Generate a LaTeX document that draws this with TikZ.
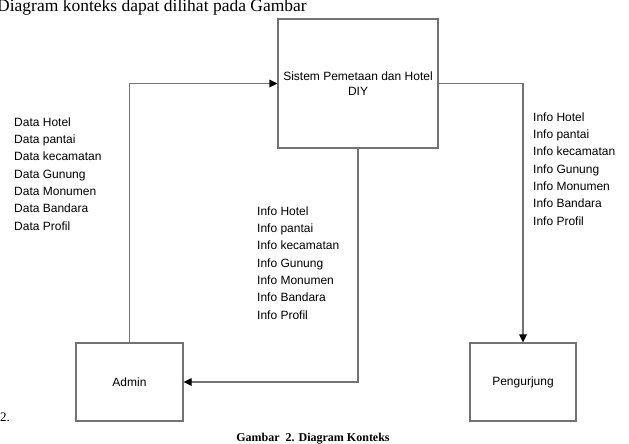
\documentclass[tikz,border=0pt]{standalone}
\usepackage{fontspec}
\setmainfont{Liberation Serif}
\setsansfont{Liberation Sans}
\usetikzlibrary{arrows.meta}

\begin{document}
\begin{tikzpicture}[x=1pt, y=-1pt,
		entity/.style = {rectangle, draw = black!55, line width = 1.1pt, inner sep = 0pt, font = \sffamily\fontsize{12}{15}\selectfont, align = center},
		datalist/.style = {anchor = north west, inner sep = 0pt, font = \sffamily\fontsize{12}{17.3}\selectfont, align = left},
		flow/.style = {draw = black!55, line width = 1.1pt, -{Triangle[length = 8pt, width = 7.5pt, color = black]}}]
				\useasboundingbox (0,0) rectangle (629,444);

				\node[anchor = base west, inner sep = 0pt, font = \fontsize{17.5}{20}\selectfont] at (-3,12) (intro) {Diagram konteks dapat dilihat pada Gambar};

				\node[entity, minimum width = 160pt, minimum height = 129pt] at (358,83.5) (sistem) {Sistem Pemetaan dan Hotel\\DIY};
				\node[entity, minimum width = 107pt, minimum height = 78pt] at (129.5,382) (admin) {Admin};
				\node[entity, minimum width = 106pt, minimum height = 78pt] at (523,382) (pengunjung) {Pengurjung};

				\node[datalist] at (14,117.5) (data_admin) {Data Hotel\\Data pantai\\Data kecamatan\\Data Gunung\\Data Monumen\\Data Bandara\\Data Profil};
				\node[datalist] at (257,206.5) (info_admin) {Info Hotel\\Info pantai\\Info kecamatan\\Info Gunung\\Info Monumen\\Info Bandara\\Info Profil};
				\node[datalist] at (533,112.5) (info_pengunjung) {Info Hotel\\Info pantai\\Info kecamatan\\Info Gunung\\Info Monumen\\Info Bandara\\Info Profil};

				\draw[flow] (admin.north) |- (sistem.west);
				\draw[flow] (sistem.east) -| (pengunjung.north);
				\draw[flow] (sistem.south) |- (admin.east);

				\node[anchor = base west, inner sep = 0pt, font = \fontsize{13}{15}\selectfont] at (0,421) (nomor) {2.};
				\node[anchor = base, inner sep = 0pt, font = \bfseries\fontsize{12}{15}\selectfont] at (313,441) (caption) {Gambar\ \ 2. Diagram Konteks};
\end{tikzpicture}
\end{document}
